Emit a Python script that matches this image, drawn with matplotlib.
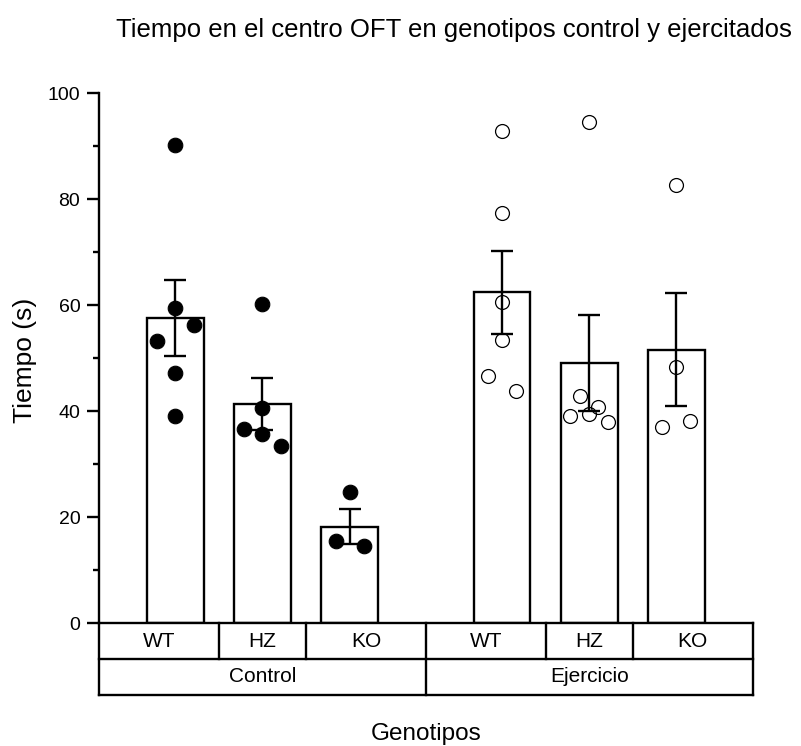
import numpy as np
import matplotlib.pyplot as plt
from matplotlib.ticker import MultipleLocator

plt.rcParams['font.family'] = ['Liberation Sans', 'DejaVu Sans']

genotipos = ['WT', 'HZ', 'KO']
grupos = ['Control', 'Ejercicio']

# tiempo en el centro (s), un valor por animal
control_wt = [90.1, 59.5, 56.2, 53.2, 47.2, 39.1]
control_hz = [60.3, 40.6, 36.6, 35.7, 33.5]
control_ko = [24.7, 15.5, 14.5]
ejercicio_wt = [92.8, 77.4, 60.6, 53.5, 46.6, 43.8]
ejercicio_hz = [94.6, 42.9, 40.7, 39.1, 39.4, 37.9]
ejercicio_ko = [82.6, 48.4, 37.1, 38.2]

series = [control_wt, control_hz, control_ko, ejercicio_wt, ejercicio_hz, ejercicio_ko]

# posicion de cada barra y separacion lateral de los puntos
pos = np.array([0, 1, 2, 3.75, 4.75, 5.75])
jitter = [
    [0, 0, 0.21, -0.21, 0, 0],
    [0, 0, -0.21, 0, 0.21],
    [0, -0.16, 0.16],
    [0, 0, 0, 0, -0.16, 0.16],
    [0, -0.11, 0.10, -0.22, 0, 0.21],
    [0, 0, -0.16, 0.16],
]

means = [np.mean(s) for s in series]
sems = [np.std(s, ddof=1) / np.sqrt(len(s)) for s in series]

W, H = 801, 746
fig = plt.figure(figsize=(W / 100, H / 100), dpi=100)
ax = fig.add_axes([99 / W, 1 - 623.3 / H, 653.7 / W, 530.3 / H])

lw = 1.7
ax.bar(pos, means, width=0.65, color='white', edgecolor='black', linewidth=lw, zorder=2)
ax.errorbar(pos, means, yerr=sems, fmt='none', ecolor='black', elinewidth=lw,
            capsize=8, capthick=lw, zorder=3)

for i, vals in enumerate(series):
    xs = pos[i] + np.array(jitter[i])
    if i < 3:
        ax.plot(xs, vals, 'o', ms=10.5, mfc='black', mec='black', mew=0.8, zorder=4, clip_on=False)
    else:
        ax.plot(xs, vals, 'o', ms=10, mfc='none', mec='black', mew=0.9, zorder=4, clip_on=False)

xmin, xmax = -0.875, 6.625
ax.set_xlim(xmin, xmax)
ax.set_ylim(0, 100)
ax.yaxis.set_major_locator(MultipleLocator(20))
ax.yaxis.set_minor_locator(MultipleLocator(10))
ax.tick_params(axis='y', which='major', length=8.5, width=lw, labelsize=14, pad=5)
ax.tick_params(axis='y', which='minor', length=4.3, width=lw)
ax.set_xticks([])
for side in ['top', 'right']:
    ax.spines[side].set_visible(False)
ax.spines['left'].set_linewidth(lw)
ax.spines['bottom'].set_linewidth(lw)

# tabla de categorias bajo el eje
tr = ax.get_xaxis_transform()
row = 35.7 / 530.3
mids = (pos[:-1] + pos[1:]) / 2
edges = np.concatenate([[xmin], mids, [xmax]])
for k, e in enumerate(edges):
    full = k in (0, 3, 6)
    ax.plot([e, e], [0, -2 * row if full else -row], color='black', lw=lw,
            transform=tr, clip_on=False, solid_capstyle='projecting')
for yy in (-row, -2 * row):
    ax.plot([xmin, xmax], [yy, yy], color='black', lw=lw, transform=tr, clip_on=False,
            solid_capstyle='projecting')

for k in range(6):
    cx = (edges[k] + edges[k + 1]) / 2
    ax.text(cx, -row / 2, genotipos[k % 3], transform=tr, ha='center', va='center', fontsize=15)
for g in range(2):
    cx = (edges[3 * g] + edges[3 * g + 3]) / 2
    ax.text(cx, -1.5 * row, grupos[g], transform=tr, ha='center', va='center', fontsize=15)

fig.text(25 / W, 1 - 360 / H, 'Tiempo (s)', rotation=90, ha='center', va='center', fontsize=19)
fig.text(426 / W, 1 - 734 / H, 'Genotipos', ha='center', va='center', fontsize=17.5)
fig.text(454 / W, 1 - 30 / H, 'Tiempo en el centro OFT en genotipos control y ejercitados',
         ha='center', va='center', fontsize=18.5)

fig.savefig('out.png', dpi=100)
